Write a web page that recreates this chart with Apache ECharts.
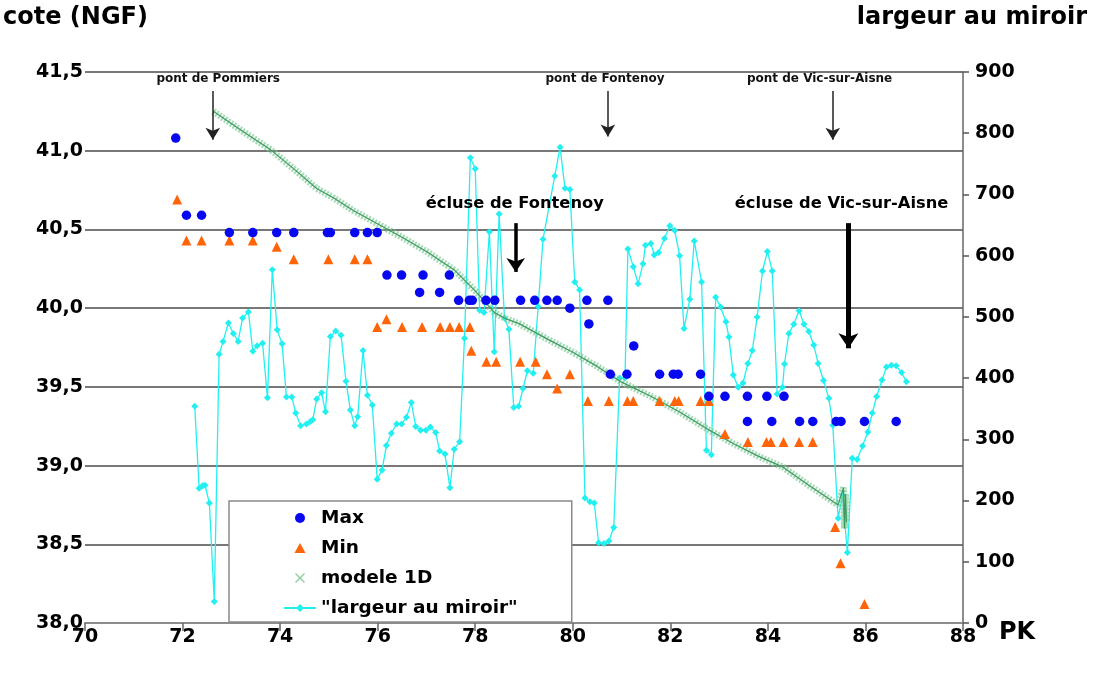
<!DOCTYPE html>
<html><head><meta charset="utf-8">
<script src="https://cdn.jsdelivr.net/npm/echarts@6/dist/echarts.min.js"></script>
<style>html,body{margin:0;padding:0;background:#fff}#c{width:1094px;height:680px}</style>
</head><body><div id="c"></div>
<script>
// ---- data (PK in km, cote in m NGF, largeur in m) ----
const maxPK   = [71.86,72.08,72.39,72.96,73.44,73.93,74.28,74.97,75.03,75.53,75.79,75.99,76.19,76.49,76.86,76.93,77.27,77.47,77.66,77.88,77.94,78.22,78.40,78.93,79.22,79.47,79.68,79.94,80.29,80.33,80.72,81.25,80.77,81.11,81.78,82.06,82.16,82.62,82.79,83.12,83.58,83.98,84.33,83.58,84.08,84.65,84.92,85.40,85.50,85.98,86.63];
const maxCote = [41.08,40.59,40.59,40.48,40.48,40.48,40.48,40.48,40.48,40.48,40.48,40.48,40.21,40.21,40.10,40.21,40.10,40.21,40.05,40.05,40.05,40.05,40.05,40.05,40.05,40.05,40.05,40.00,40.05,39.90,40.05,39.76,39.58,39.58,39.58,39.58,39.58,39.58,39.44,39.44,39.44,39.44,39.44,39.28,39.28,39.28,39.28,39.28,39.28,39.28,39.28];
const minPK   = [71.89,72.08,72.39,72.96,73.44,73.93,74.28,74.99,75.53,75.79,75.99,76.18,76.50,76.91,77.28,77.48,77.67,77.89,77.92,78.23,78.43,78.92,79.24,79.47,79.94,79.68,80.31,80.74,81.12,81.24,81.78,82.09,82.17,82.62,82.79,83.12,83.59,83.97,84.06,84.32,84.64,84.92,85.38,85.49,85.98];
const minCote = [40.69,40.43,40.43,40.43,40.43,40.39,40.31,40.31,40.31,40.31,39.88,39.93,39.88,39.88,39.88,39.88,39.88,39.88,39.73,39.66,39.66,39.66,39.66,39.58,39.58,39.49,39.41,39.41,39.41,39.41,39.41,39.41,39.41,39.41,39.41,39.20,39.15,39.15,39.15,39.15,39.15,39.15,38.61,38.38,38.12];
const modelPK   = [72.63,73.20,73.79,74.30,74.75,75.10,75.50,75.91,76.50,77.00,77.58,78.00,78.40,78.65,78.91,79.50,80.00,80.50,81.00,81.60,82.19,82.77,83.29,83.80,84.31,84.86,85.44,85.55,85.57,85.59,85.61];
const modelCote = [41.25,41.13,41.01,40.88,40.76,40.70,40.62,40.55,40.45,40.36,40.24,40.11,39.97,39.93,39.90,39.80,39.72,39.63,39.53,39.44,39.34,39.23,39.14,39.06,38.99,38.87,38.75,38.86,38.60,38.82,38.64];
const largeurPK  = [72.25,72.34,72.41,72.46,72.55,72.65,72.75,72.83,72.94,73.04,73.14,73.23,73.35,73.44,73.53,73.64,73.74,73.84,73.94,74.04,74.13,74.24,74.32,74.42,74.54,74.62,74.67,74.75,74.85,74.93,75.03,75.14,75.25,75.35,75.44,75.53,75.59,75.70,75.79,75.89,75.99,76.09,76.18,76.28,76.39,76.49,76.59,76.69,76.78,76.88,76.99,77.08,77.19,77.27,77.38,77.48,77.57,77.68,77.78,77.90,78.00,78.09,78.18,78.29,78.39,78.49,78.60,78.69,78.79,78.89,78.98,79.07,79.19,79.29,79.39,79.63,79.74,79.84,79.94,80.04,80.14,80.25,80.35,80.44,80.53,80.64,80.74,80.84,80.96,81.07,81.13,81.24,81.34,81.44,81.49,81.60,81.67,81.76,81.88,81.99,82.09,82.19,82.28,82.40,82.49,82.64,82.74,82.84,82.93,83.03,83.14,83.20,83.29,83.39,83.49,83.59,83.68,83.78,83.89,83.99,84.09,84.19,84.30,84.34,84.43,84.53,84.64,84.74,84.84,84.94,85.03,85.14,85.25,85.33,85.44,85.53,85.63,85.73,85.83,85.94,86.05,86.14,86.23,86.34,86.43,86.53,86.63,86.74,86.84];
const largeurVal = [354,220,224,225,196,35,439,460,490,473,460,498,508,444,453,457,368,577,479,456,369,369,343,322,325,329,332,366,376,345,468,477,470,395,348,322,337,445,372,356,235,250,290,310,325,325,336,360,321,315,315,320,311,281,276,221,284,296,465,760,742,511,507,639,443,668,498,480,352,354,383,412,408,517,627,730,777,710,708,557,544,204,198,196,131,130,134,156,400,400,611,582,554,587,617,620,601,605,628,649,641,600,481,529,624,557,282,275,532,516,492,467,405,385,392,424,445,500,575,607,575,374,385,423,473,488,510,488,476,454,424,396,367,323,171,209,115,269,267,289,312,343,370,397,418,421,420,409,394];
const bridgeNames = ['pont de Pommiers','pont de Fontenoy','pont de Vic-sur-Aisne'];
const bridgePK    = [72.62,80.72,85.33];
const lockNames   = ['écluse de Fontenoy','écluse de Vic-sur-Aisne'];
const lockPK      = [78.83,85.65];
const legendNames = ['Max','Min','modele 1D','"largeur au miroir"'];

const pair = (xs, ys) => xs.map((x, i) => [x, ys[i]]);
const FONT = 'DejaVu Sans';
const xIcon = 'path://M0,1L1,0L5,4L9,0L10,1L6,5L10,9L9,10L5,6L1,10L0,9L4,5Z';
const triIcon = 'path://M5,0L10,9L0,9Z';

const chart = echarts.init(document.getElementById('c'), null, {renderer: 'canvas'});
const bridgeLabelPK = [72.73, 80.66, 85.06];
const lockLabelPK = [78.81, 85.51];

const option = {
  animation: false,
  backgroundColor: '#fff',
  textStyle: {fontFamily: FONT},
  grid: {left: 85, right: 131, top: 72, bottom: 57, containLabel: false},
  legend: {
    orient: 'vertical', left: 229, top: 501,
    data: [
      {name: legendNames[0], icon: 'circle'},
      {name: legendNames[1], icon: triIcon},
      {name: legendNames[2], icon: xIcon},
      {name: legendNames[3]}
    ],
    itemWidth: 32, itemHeight: 10, itemGap: 10,
    padding: [7, 54, 4, 54],
    backgroundColor: '#fff', borderColor: '#8a8a8a', borderWidth: 1.5,
    textStyle: {fontFamily: FONT, fontWeight: 'bold', fontSize: 18.5, color: '#000', lineHeight: 20},
    selectedMode: false
  },
  xAxis: {
    type: 'value', min: 70, max: 88, interval: 2,
    axisLine: {show: true, onZero: false, lineStyle: {color: '#8c8c8c', width: 2}},
    axisTick: {show: true, length: 8, lineStyle: {color: '#666', width: 1.5}},
    axisLabel: {fontFamily: FONT, fontWeight: 'bold', fontSize: 19, color: '#000', margin: 5},
    splitLine: {show: false}
  },
  yAxis: [
    {
      type: 'value', min: 38, max: 41.5, interval: 0.5, position: 'left',
      axisLine: {show: false}, axisTick: {show: false},
      axisLabel: {fontFamily: FONT, fontWeight: 'bold', fontSize: 19, color: '#000', margin: 2,
        formatter: v => v.toFixed(1).replace('.', ',')},
      splitLine: {show: true, lineStyle: {color: '#787878', width: 2}}
    },
    {
      type: 'value', min: 0, max: 900, interval: 100, position: 'right',
      axisLine: {show: true, lineStyle: {color: '#666', width: 1.5}},
      axisTick: {show: true, length: 6, lineStyle: {color: '#555', width: 1.5}},
      axisLabel: {fontFamily: FONT, fontWeight: 'bold', fontSize: 19, color: '#000', margin: 12},
      splitLine: {show: false}
    }
  ],
  graphic: [
    {type: 'text', left: 3, top: 6, style: {text: 'cote (NGF)', font: 'bold 24px "DejaVu Sans"', fill: '#000'}},
    {type: 'text', right: 7, top: 6, style: {text: 'largeur au miroir', font: 'bold 24px "DejaVu Sans"', fill: '#000'}},
    {type: 'text', left: 999, top: 621, style: {text: 'PK', font: 'bold 24px "DejaVu Sans"', fill: '#000'}}
  ],
  series: [
    {
      name: legendNames[3], type: 'line', yAxisIndex: 1, z: 2,
      data: pair(largeurPK, largeurVal),
      symbol: 'diamond', symbolSize: 7, showAllSymbol: true,
      itemStyle: {color: '#22f0f0'},
      lineStyle: {color: '#22f0f0', width: 1.3}
    },
    {
      name: legendNames[2], type: 'line', z: 3,
      data: pair(modelPK, modelCote),
      showSymbol: false, symbol: 'none',
      itemStyle: {color: '#8fd0a0'},
      lineStyle: {color: 'rgba(120,200,145,0.65)', width: 7, type: [2, 1.5]}
    },
    {
      name: 'modele-core', type: 'line', z: 3, silent: true,
      data: pair(modelPK, modelCote),
      showSymbol: false, symbol: 'none',
      lineStyle: {color: '#3d9a60', width: 1.2}
    },
    {
      name: legendNames[1], type: 'scatter', z: 4,
      data: pair(minPK, minCote),
      symbol: 'triangle', symbolSize: 10,
      itemStyle: {color: '#ff6408', opacity: 1}
    },
    {
      name: legendNames[0], type: 'scatter', z: 5,
      data: pair(maxPK, maxCote),
      symbol: 'circle', symbolSize: 9.5,
      itemStyle: {color: '#0808f0', opacity: 1},
      markLine: {
        silent: true, animation: false,
        symbol: ['none', 'arrow'],
        label: {show: false},
        data: [
          [{coord: [bridgePK[0], 41.38], lineStyle: {color: '#222', width: 1.5, type: 'solid'}, symbolSize: [11, 12]}, {coord: [bridgePK[0], 41.07], symbolSize: [11, 12]}],
          [{coord: [bridgePK[1], 41.38], lineStyle: {color: '#222', width: 1.5, type: 'solid'}, symbolSize: [11, 12]}, {coord: [bridgePK[1], 41.09], symbolSize: [11, 12]}],
          [{coord: [bridgePK[2], 41.38], lineStyle: {color: '#222', width: 1.5, type: 'solid'}, symbolSize: [11, 12]}, {coord: [bridgePK[2], 41.07], symbolSize: [11, 12]}],
          [{coord: [lockPK[0], 40.54], lineStyle: {color: '#000', width: 3.5, type: 'solid'}, symbolSize: [14, 14]}, {coord: [lockPK[0], 40.23], symbolSize: [14, 14]}],
          [{coord: [lockPK[1], 40.54], lineStyle: {color: '#000', width: 5, type: 'solid'}, symbolSize: [15, 15]}, {coord: [lockPK[1], 39.745], symbolSize: [15, 15]}]
        ]
      },
      markPoint: {
        silent: true, animation: false,
        symbol: 'circle', symbolSize: 1,
        itemStyle: {color: 'rgba(0,0,0,0)'},
        label: {show: true, position: 'inside', formatter: '{b}', color: '#111', fontFamily: FONT, fontWeight: 'bold', fontSize: 12},
        data: [
          {name: bridgeNames[0], coord: [bridgeLabelPK[0], 41.454]},
          {name: bridgeNames[1], coord: [bridgeLabelPK[1], 41.454]},
          {name: bridgeNames[2], coord: [bridgeLabelPK[2], 41.454]},
          {name: lockNames[0], coord: [lockLabelPK[0], 40.66], label: {fontSize: 16.3, color: '#000'}},
          {name: lockNames[1], coord: [lockLabelPK[1], 40.66], label: {fontSize: 16.3, color: '#000'}}
        ]
      }
    }
  ]
};
chart.setOption(option);
</script></body></html>
